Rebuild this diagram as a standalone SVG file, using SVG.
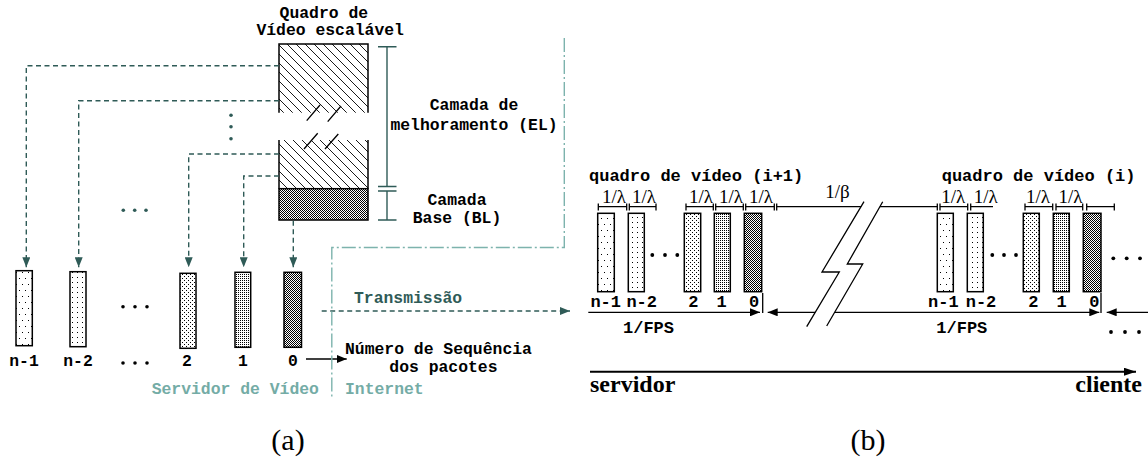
<svg xmlns="http://www.w3.org/2000/svg" width="1148" height="468" viewBox="0 0 1148 468">
<defs>
<style>
.mono{font-family:"Liberation Mono","Courier New",monospace;font-weight:bold;font-size:16.4px;fill:#000}
.mono17{font-family:"Liberation Mono","Courier New",monospace;font-weight:bold;font-size:17px;fill:#000}
.lam{font-family:"Liberation Serif","Times New Roman",serif;font-size:19px;fill:#000}
.big{font-family:"Liberation Serif","Times New Roman",serif;font-size:30px;fill:#000}
.bold{font-family:"Liberation Serif","Times New Roman",serif;font-weight:bold;font-size:24px;fill:#000}
.dk{fill:#2f5b57}
.lt{fill:#74aca6}
.dash{fill:none;stroke:#2f5b57;stroke-width:1.4;stroke-dasharray:5,3.5}
.bound{fill:none;stroke:#7db3ad;stroke-width:1.4;stroke-dasharray:14,3,2,3}
.pkt{stroke:#000;stroke-width:1.5}
.ln{fill:none;stroke:#000;stroke-width:1.3}
.bar{fill:none;stroke:#2f5b57;stroke-width:1.4}
.dot{fill:#000}
.tdot{fill:#2f5b57}
</style>
<pattern id="hatch" patternUnits="userSpaceOnUse" width="9" height="9"><rect width="9" height="9" fill="#fff"/><path d="M0,0L9,9M-2,7L2,11M7,-2L11,2" stroke="#000" stroke-width="0.9"/></pattern>
<pattern id="pdark" patternUnits="userSpaceOnUse" width="2" height="2"><rect width="2" height="2" fill="#fff"/><rect width="1" height="1" fill="#000"/><rect x="1" y="1" width="1" height="1" fill="#000"/></pattern>
<pattern id="p1" patternUnits="userSpaceOnUse" width="2" height="2"><rect width="2" height="2" fill="#fff"/><rect width="1" height="1" fill="#000"/></pattern>
<pattern id="p2" patternUnits="userSpaceOnUse" width="4" height="4"><rect width="4" height="4" fill="#fff"/><rect width="1" height="1" fill="#000"/><rect x="2" y="2" width="1" height="1" fill="#000"/></pattern>
<pattern id="pn2" patternUnits="userSpaceOnUse" width="5" height="5"><rect width="5" height="5" fill="#fff"/><rect x="2" y="2" width="1" height="1" fill="#000"/></pattern>
<pattern id="pn1" patternUnits="userSpaceOnUse" width="6" height="12"><rect width="6" height="12" fill="#fff"/><rect x="1" y="2" width="1" height="1" fill="#000"/><rect x="4" y="8" width="1" height="1" fill="#000"/></pattern>
<marker id="ahT" viewBox="0 0 10 8" refX="10" refY="4" markerWidth="10" markerHeight="8" markerUnits="userSpaceOnUse" orient="auto"><path d="M0,0L10,4L0,8z" fill="#2f5b57"/></marker>
<marker id="ahB" viewBox="0 0 10 8" refX="10" refY="4" markerWidth="10" markerHeight="8" markerUnits="userSpaceOnUse" orient="auto-start-reverse"><path d="M0,0L10,4L0,8z" fill="#000"/></marker>
<marker id="ahL" viewBox="0 0 12 8" refX="12" refY="4" markerWidth="12" markerHeight="8" markerUnits="userSpaceOnUse" orient="auto"><path d="M0,0L12,4L0,8z" fill="#000"/></marker>
</defs>
<rect width="1148" height="468" fill="#fff"/>

<!-- (a) -->
<g id="frame-title">
<text class="mono" x="279.6" y="18">Quadro de</text>
<text class="mono" x="256.4" y="35">Vídeo escalável</text>
</g>
<g id="scalable-frame">
<rect x="279" y="44" width="89" height="68.7" fill="url(#hatch)"/>
<rect x="279" y="140" width="89" height="48.7" fill="url(#hatch)"/>
<rect x="279" y="188.7" width="89" height="31.3" fill="url(#pdark)" stroke="#000" stroke-width="1.5"/>
<path d="M279,112.7V44H368V112.7M279,140V188.7M368,140V188.7" fill="none" stroke="#000" stroke-width="1.5"/>
<path d="M306.7,120.7L320,105M327.7,121.7L341,106M304,149L317.7,133.3M325,149L338.3,134" fill="none" stroke="#000" stroke-width="1.3"/>
</g>
<g id="layer-bars">
<path class="bar" d="M387,46.7V186.5M378,46.7H396.5M378,186.5H396.5M378,191H396.5M387,191V220M378,220H396.5"/>
<text class="mono" x="474" y="110" text-anchor="middle">Camada de</text>
<text class="mono" x="474" y="130" text-anchor="middle">melhoramento (EL)</text>
<text class="mono" x="457" y="205" text-anchor="middle">Camada</text>
<text class="mono" x="457" y="223" text-anchor="middle">Base (BL)</text>
</g>
<g id="packets-a">
<rect class="pkt" x="16" y="270.7" width="16.3" height="75" fill="url(#pn1)"/>
<rect class="pkt" x="70" y="271.7" width="16" height="75" fill="url(#pn2)"/>
<rect class="pkt" x="180" y="273.3" width="16" height="75" fill="url(#p2)"/>
<rect class="pkt" x="235" y="272.3" width="15.7" height="75" fill="url(#p1)"/>
<rect class="pkt" x="284" y="272.3" width="17.5" height="75" fill="url(#pdark)"/>
<circle class="dot" cx="123" cy="306.7" r="1.8"/><circle class="dot" cx="135" cy="306.7" r="1.8"/><circle class="dot" cx="147" cy="306.7" r="1.8"/>
<text class="mono" x="24" y="366" text-anchor="middle">n-1</text>
<text class="mono" x="78" y="366" text-anchor="middle">n-2</text>
<circle class="dot" cx="123" cy="363" r="1.8"/><circle class="dot" cx="135" cy="363" r="1.8"/><circle class="dot" cx="147" cy="363" r="1.8"/>
<text class="mono" x="187" y="366" text-anchor="middle">2</text>
<text class="mono" x="243" y="366" text-anchor="middle">1</text>
<text class="mono" x="293" y="366" text-anchor="middle">0</text>
</g>
<g id="connectors-a">
<path class="dash" d="M279,65.7H26.3V267.3" marker-end="url(#ahT)"/>
<path class="dash" d="M279,100.7H78.7V267.3" marker-end="url(#ahT)"/>
<path class="dash" d="M279,154H188.7V267.3" marker-end="url(#ahT)"/>
<path class="dash" d="M279,176H243.7V267.3" marker-end="url(#ahT)"/>
<path class="dash" d="M293.3,220.7V267.3" marker-end="url(#ahT)"/>
<circle class="tdot" cx="231" cy="115.3" r="1.8"/><circle class="tdot" cx="231" cy="126.7" r="1.8"/><circle class="tdot" cx="231" cy="138.7" r="1.8"/>
<circle class="tdot" cx="123.3" cy="210.3" r="1.8"/><circle class="tdot" cx="134.7" cy="210.3" r="1.8"/><circle class="tdot" cx="146" cy="210.3" r="1.8"/>
<path class="dash" d="M321.7,311H570" marker-end="url(#ahT)"/>
<path class="ln" d="M306,359H346.7" marker-end="url(#ahB)"/>
<path class="bound" d="M564.3,38V247.5H331.8V398"/>
</g>
<g id="labels-a">
<text class="mono dk" x="354" y="303.3">Transmissão</text>
<text class="mono" x="345" y="354">Número de Sequência</text>
<text class="mono" x="389.3" y="372.3">dos pacotes</text>
<text class="mono lt" x="151.7" y="394">Servidor de Vídeo</text>
<text class="mono lt" x="345" y="394">Internet</text>
<text class="big" x="288" y="450" text-anchor="middle">(a)</text>
</g>

<!-- (b) -->
<g id="titles-b">
<text class="mono17" x="589" y="180.7">quadro de vídeo (i+1)</text>
<text class="mono17" x="941.7" y="180.7">quadro de vídeo (i)</text>
</g>
<g id="brackets-b">
<path class="ln" d="M598.3,206.7H626.7M629.3,206.7H656M686,206.7H713.3M715.7,206.7H743.3M745.7,206.7H774.3M776.7,206.7H937.3M940,206.7H967.7M970.7,206.7H993M1025,206.7H1052.7M1056,206.7H1082.7M1086.7,206.7H1114.3"/>
<path class="ln" d="M598.3,203.5V210.5M626.7,203.5V210.5M629.3,203.5V210.5M656,203.5V210.5M686,203.5V210.5M713.3,203.5V210.5M715.7,203.5V210.5M743.3,203.5V210.5M745.7,203.5V210.5M774.3,203.5V210.5M776.7,203.5V210.5M937.3,203.5V210.5M940,203.5V210.5M967.7,203.5V210.5M970.7,203.5V210.5M1025,203.5V210.5M1052.7,203.5V210.5M1056,203.5V210.5M1082.7,203.5V210.5M1086.7,203.5V210.5M1114.3,203.5V210.5"/>
<text class="lam" x="614" y="202.5" text-anchor="middle">1/λ</text>
<text class="lam" x="644" y="202.5" text-anchor="middle">1/λ</text>
<text class="lam" x="701" y="202.5" text-anchor="middle">1/λ</text>
<text class="lam" x="731" y="202.5" text-anchor="middle">1/λ</text>
<text class="lam" x="761" y="202.5" text-anchor="middle">1/λ</text>
<text class="lam" x="837.5" y="198" text-anchor="middle">1/β</text>
<text class="lam" x="953.3" y="202.5" text-anchor="middle">1/λ</text>
<text class="lam" x="985.8" y="202.5" text-anchor="middle">1/λ</text>
<text class="lam" x="1038" y="202.5" text-anchor="middle">1/λ</text>
<text class="lam" x="1070.5" y="202.5" text-anchor="middle">1/λ</text>
</g>
<g id="packets-b1">
<rect class="pkt" x="597.7" y="213.3" width="16.6" height="78.4" fill="url(#pn1)"/>
<rect class="pkt" x="628.3" y="213.3" width="16" height="78.4" fill="url(#pn2)"/>
<rect class="pkt" x="684.3" y="213.3" width="16.4" height="78.4" fill="url(#p2)"/>
<rect class="pkt" x="714.3" y="213.3" width="16" height="78.4" fill="url(#p1)"/>
<rect class="pkt" x="744.3" y="213.3" width="17.4" height="78.4" fill="url(#pdark)"/>
<circle class="dot" cx="652.3" cy="255" r="1.9"/><circle class="dot" cx="665" cy="255" r="1.9"/><circle class="dot" cx="677.3" cy="255" r="1.9"/>
<text class="mono17" x="605.7" y="306.7" text-anchor="middle">n-1</text>
<text class="mono17" x="641.7" y="306.7" text-anchor="middle">n-2</text>
<text class="mono17" x="693.3" y="306.7" text-anchor="middle">2</text>
<text class="mono17" x="721.7" y="306.7" text-anchor="middle">1</text>
<text class="mono17" x="754" y="306.7" text-anchor="middle">0</text>
</g>
<g id="packets-b2">
<rect class="pkt" x="937.3" y="213.3" width="16" height="78.4" fill="url(#pn1)"/>
<rect class="pkt" x="967.3" y="213.3" width="16" height="78.4" fill="url(#pn2)"/>
<rect class="pkt" x="1023.3" y="213.3" width="16" height="78.4" fill="url(#p2)"/>
<rect class="pkt" x="1053.3" y="213.3" width="16" height="78.4" fill="url(#p1)"/>
<rect class="pkt" x="1083.3" y="213.3" width="17.7" height="78.4" fill="url(#pdark)"/>
<circle class="dot" cx="992.3" cy="255" r="1.9"/><circle class="dot" cx="1004" cy="255" r="1.9"/><circle class="dot" cx="1016" cy="255" r="1.9"/>
<circle class="dot" cx="1113.3" cy="258.3" r="1.9"/><circle class="dot" cx="1126.7" cy="258.3" r="1.9"/><circle class="dot" cx="1140" cy="258.3" r="1.9"/>
<text class="mono17" x="943.3" y="306.7" text-anchor="middle">n-1</text>
<text class="mono17" x="981" y="306.7" text-anchor="middle">n-2</text>
<text class="mono17" x="1033.3" y="306.7" text-anchor="middle">2</text>
<text class="mono17" x="1061.7" y="306.7" text-anchor="middle">1</text>
<text class="mono17" x="1094.3" y="306.7" text-anchor="middle">0</text>
</g>
<g id="connectors-b">
<path class="ln" d="M762.7,293V313M1101,293V313"/>
<path class="ln" d="M588.3,312.3H760" marker-end="url(#ahB)"/>
<path class="ln" d="M767.7,312.3H1099.3" marker-start="url(#ahB)" marker-end="url(#ahB)"/>
<path class="ln" d="M1148,312.3H1106.7" marker-end="url(#ahB)"/>
<text class="mono17" x="648.5" y="333" text-anchor="middle">1/FPS</text>
<text class="mono17" x="961.8" y="333" text-anchor="middle">1/FPS</text>
<circle class="dot" cx="1111" cy="332" r="1.9"/><circle class="dot" cx="1125" cy="332" r="1.9"/><circle class="dot" cx="1139" cy="332" r="1.9"/>
</g>
<g id="break">
<polygon points="864,201.7 822,272 839.3,272 806.7,326.7 826.7,326 862.7,264 847.3,264 882.7,201.7" fill="#fff"/>
<polyline class="ln" points="864,201.7 822,272 839.3,272 806.7,326.7"/>
<polyline class="ln" points="882.7,201.7 847.3,264 862.7,264 826.7,326"/>
</g>
<g id="axis">
<path d="M590,371.7H1136" fill="none" stroke="#000" stroke-width="2" marker-end="url(#ahL)"/>
<text class="bold" x="590" y="391.7">servidor</text>
<text class="bold" x="1142" y="391.7" text-anchor="end">cliente</text>
<text class="big" x="868" y="450" text-anchor="middle">(b)</text>
</g>
</svg>
